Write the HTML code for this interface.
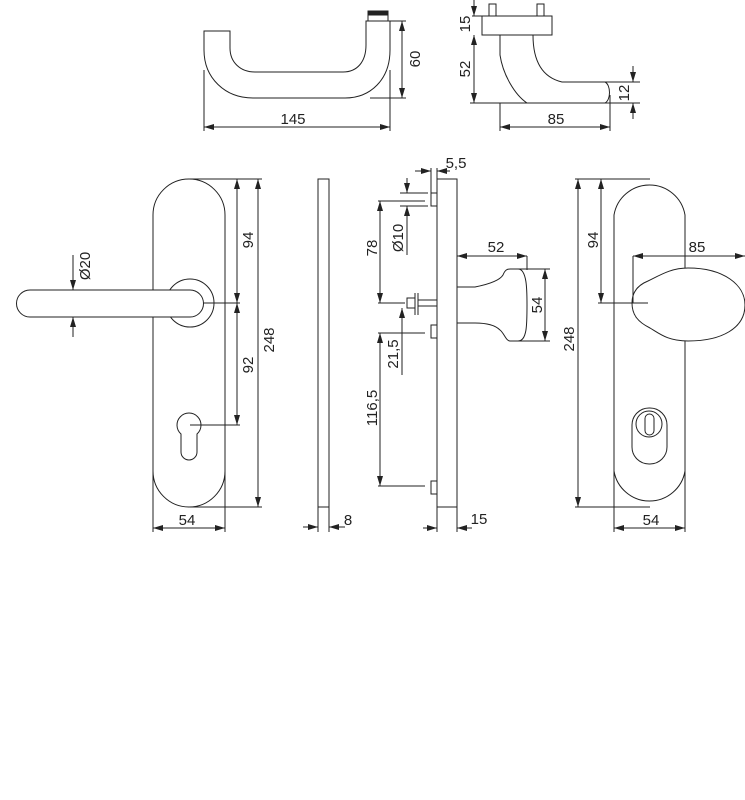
<!DOCTYPE html>
<html><head><meta charset="utf-8"><style>
html,body{margin:0;padding:0;background:#fff;}
svg{display:block;}
text{font-family:"Liberation Sans",sans-serif;font-size:15px;fill:#222;}
</style></head><body>
<svg width="745" height="800" viewBox="0 0 745 800" xmlns="http://www.w3.org/2000/svg">
<defs>
<marker id="a" viewBox="0 0 10 6" refX="10" refY="3" markerWidth="10" markerHeight="6" orient="auto-start-reverse" markerUnits="userSpaceOnUse"><path d="M0,0 L10,3 L0,6 z" fill="#222"/></marker>
</defs>
<g fill="none" stroke="#222" stroke-width="1">
<!-- top lever -->
<path d="M204,31 H230 V48 C230,62 240,72 255,72 H343 C357,72 366,62 366,45 V21 H390 V50 C390,80 370,98 345,98 H253 C225,98 204,78 204,50 Z"/>
<rect x="368" y="11" width="20" height="4" fill="#222"/>
<line x1="368" y1="15" x2="368" y2="21"/><line x1="388" y1="15" x2="388" y2="21"/>
<line x1="204" y1="70" x2="204" y2="131"/><line x1="390" y1="70" x2="390" y2="131"/>
<line x1="204" y1="127" x2="390" y2="127" marker-start="url(#a)" marker-end="url(#a)"/>
<line x1="390" y1="21" x2="406" y2="21"/><line x1="370" y1="98" x2="406" y2="98"/>
<line x1="402" y1="21" x2="402" y2="98" marker-start="url(#a)" marker-end="url(#a)"/>
<!-- top right side view -->
<rect x="482" y="16" width="70" height="19"/>
<rect x="489" y="4" width="7" height="12"/><rect x="537" y="4" width="7" height="12"/>
<path d="M500,35 V55 C503,75 515,95 527,103 H605 C611,100 611,85 605,82 H562 C545,78 533,65 533,35"/>
<line x1="472" y1="16" x2="482" y2="16"/><line x1="470" y1="103" x2="640" y2="103"/><line x1="605" y1="82" x2="640" y2="82"/>
<line x1="474" y1="0" x2="474" y2="16" marker-end="url(#a)"/>
<line x1="474" y1="35" x2="474" y2="103" marker-start="url(#a)" marker-end="url(#a)"/>
<line x1="633" y1="66" x2="633" y2="82" marker-end="url(#a)"/>
<line x1="633" y1="119" x2="633" y2="103" marker-end="url(#a)"/>
<line x1="500" y1="103" x2="500" y2="131"/><line x1="610" y1="95" x2="610" y2="131"/>
<line x1="500" y1="127" x2="610" y2="127" marker-start="url(#a)" marker-end="url(#a)"/>
<!-- left plate front -->
<path d="M153,215 A36,36 0 0 1 225,215 V471 A36,36 0 0 1 153,471 Z"/>
<line x1="190" y1="179" x2="262" y2="179"/><line x1="190" y1="507" x2="262" y2="507"/>
<circle cx="190" cy="303" r="24" fill="#fff"/>
<path d="M30,290 H190 A13.5,13.5 0 0 1 190,317 H30 A13.5,13.5 0 0 1 30,290 Z" fill="#fff"/>
<line x1="203" y1="303" x2="240" y2="303"/>
<path d="M181,434 A12,12 0 1 1 197,434 V452 A8,8 0 0 1 181,452 Z"/>
<line x1="190" y1="425" x2="240" y2="425"/>
<line x1="237" y1="179" x2="237" y2="303" marker-start="url(#a)" marker-end="url(#a)"/>
<line x1="237" y1="303" x2="237" y2="425" marker-start="url(#a)" marker-end="url(#a)"/>
<line x1="258" y1="179" x2="258" y2="507" marker-start="url(#a)" marker-end="url(#a)"/>
<line x1="73" y1="255" x2="73" y2="290" marker-end="url(#a)"/>
<line x1="73" y1="337" x2="73" y2="317" marker-end="url(#a)"/>
<line x1="153" y1="471" x2="153" y2="532"/><line x1="225" y1="471" x2="225" y2="532"/>
<line x1="153" y1="528" x2="225" y2="528" marker-start="url(#a)" marker-end="url(#a)"/>
<!-- thin side plate -->
<rect x="318" y="179" width="11" height="328"/>
<line x1="318" y1="507" x2="318" y2="532"/><line x1="329" y1="507" x2="329" y2="532"/>
<line x1="303" y1="527" x2="318" y2="527" marker-end="url(#a)"/>
<line x1="345" y1="527" x2="329" y2="527" marker-end="url(#a)"/>
<!-- middle side view -->
<rect x="437" y="179" width="20" height="328"/>
<line x1="437" y1="507" x2="437" y2="532"/><line x1="457" y1="507" x2="457" y2="532"/>
<rect x="431" y="193" width="6" height="13"/><rect x="431" y="325" width="6" height="13"/><rect x="431" y="481" width="6" height="13"/>
<line x1="431" y1="168" x2="431" y2="193"/><line x1="437" y1="168" x2="437" y2="179"/>
<line x1="415" y1="171" x2="431" y2="171" marker-end="url(#a)"/>
<line x1="450" y1="171" x2="437" y2="171" marker-end="url(#a)"/>
<rect x="407" y="298" width="8" height="10"/><line x1="415" y1="293" x2="415" y2="315"/><line x1="418" y1="293" x2="418" y2="315"/>
<line x1="418" y1="300" x2="437" y2="300"/><line x1="418" y1="306" x2="437" y2="306"/>
<line x1="400" y1="193" x2="428" y2="193"/><line x1="400" y1="206" x2="428" y2="206"/>
<line x1="407" y1="178" x2="407" y2="193" marker-end="url(#a)"/>
<line x1="407" y1="255" x2="407" y2="206" marker-end="url(#a)"/>
<line x1="378" y1="201" x2="425" y2="201"/><line x1="378" y1="303" x2="405" y2="303"/>
<line x1="380" y1="201" x2="380" y2="303" marker-start="url(#a)" marker-end="url(#a)"/>
<line x1="402" y1="340" x2="402" y2="308" marker-end="url(#a)"/>
<line x1="402" y1="375" x2="402" y2="333"/>
<line x1="378" y1="333" x2="425" y2="333"/><line x1="378" y1="486" x2="425" y2="486"/>
<line x1="380" y1="333" x2="380" y2="486" marker-start="url(#a)" marker-end="url(#a)"/>
<path d="M457,287 H475 C490,284 500,280 503,275 C505,270 507,269 510,269 H518 C527,269 527,290 527,305 C527,325 527,341 518,341 H510 C506,341 504,333 500,330 C495,325 485,323 475,323 H457"/>
<line x1="527" y1="256" x2="527" y2="270"/>
<line x1="457" y1="256" x2="527" y2="256" marker-start="url(#a)" marker-end="url(#a)"/>
<line x1="510" y1="269" x2="550" y2="269"/><line x1="510" y1="341" x2="550" y2="341"/>
<line x1="545" y1="269" x2="545" y2="341" marker-start="url(#a)" marker-end="url(#a)"/>
<line x1="423" y1="528" x2="437" y2="528" marker-end="url(#a)"/>
<line x1="472" y1="528" x2="457" y2="528" marker-end="url(#a)"/>
<!-- right plate -->
<path d="M614,215 A36,36 0 0 1 685,215 V471 A36,36 0 0 1 614,471 Z"/>
<line x1="575" y1="179" x2="650" y2="179"/><line x1="575" y1="507" x2="650" y2="507"/>
<path d="M688,268 C724,268 745,285 745,305 C745,328 722,341 688,341 C668,341 660,334 650,328 C638,322 632,315 632,303 C632,292 638,285 648,281 C662,274 672,268 688,268 Z" fill="#fff"/>
<line x1="598" y1="303" x2="648" y2="303"/>
<line x1="633" y1="256" x2="633" y2="303"/>
<line x1="633" y1="256" x2="745" y2="256" marker-start="url(#a)" marker-end="url(#a)"/>
<rect x="632" y="408" width="35" height="56" rx="17"/>
<circle cx="649" cy="424" r="13"/>
<rect x="645" y="414" width="9" height="21" rx="4.5"/>
<line x1="578" y1="179" x2="578" y2="507" marker-start="url(#a)" marker-end="url(#a)"/>
<line x1="601" y1="179" x2="601" y2="303" marker-start="url(#a)" marker-end="url(#a)"/>
<line x1="614" y1="471" x2="614" y2="532"/><line x1="685" y1="471" x2="685" y2="532"/>
<line x1="614" y1="528" x2="685" y2="528" marker-start="url(#a)" marker-end="url(#a)"/>
</g>
<g>
<text x="293" y="124" text-anchor="middle">145</text>
<text transform="translate(420,59) rotate(-90)" text-anchor="middle">60</text>
<text transform="translate(470,24) rotate(-90)" text-anchor="middle">15</text>
<text transform="translate(470,69) rotate(-90)" text-anchor="middle">52</text>
<text transform="translate(629,93) rotate(-90)" text-anchor="middle">12</text>
<text x="556" y="124" text-anchor="middle">85</text>
<text transform="translate(90,266) rotate(-90)" text-anchor="middle">Ø20</text>
<text transform="translate(253,240) rotate(-90)" text-anchor="middle">94</text>
<text transform="translate(253,365) rotate(-90)" text-anchor="middle">92</text>
<text transform="translate(274,340) rotate(-90)" text-anchor="middle">248</text>
<text x="187" y="525" text-anchor="middle">54</text>
<text x="348" y="525" text-anchor="middle">8</text>
<text x="456" y="168" text-anchor="middle">5,5</text>
<text transform="translate(403,238) rotate(-90)" text-anchor="middle">Ø10</text>
<text transform="translate(377,248) rotate(-90)" text-anchor="middle">78</text>
<text transform="translate(398,354) rotate(-90)" text-anchor="middle">21,5</text>
<text transform="translate(377,408) rotate(-90)" text-anchor="middle">116,5</text>
<text x="496" y="252" text-anchor="middle">52</text>
<text transform="translate(542,305) rotate(-90)" text-anchor="middle">54</text>
<text x="479" y="524" text-anchor="middle">15</text>
<text transform="translate(574,339) rotate(-90)" text-anchor="middle">248</text>
<text transform="translate(598,240) rotate(-90)" text-anchor="middle">94</text>
<text x="697" y="252" text-anchor="middle">85</text>
<text x="651" y="525" text-anchor="middle">54</text>
</g>
</svg>
</body></html>
